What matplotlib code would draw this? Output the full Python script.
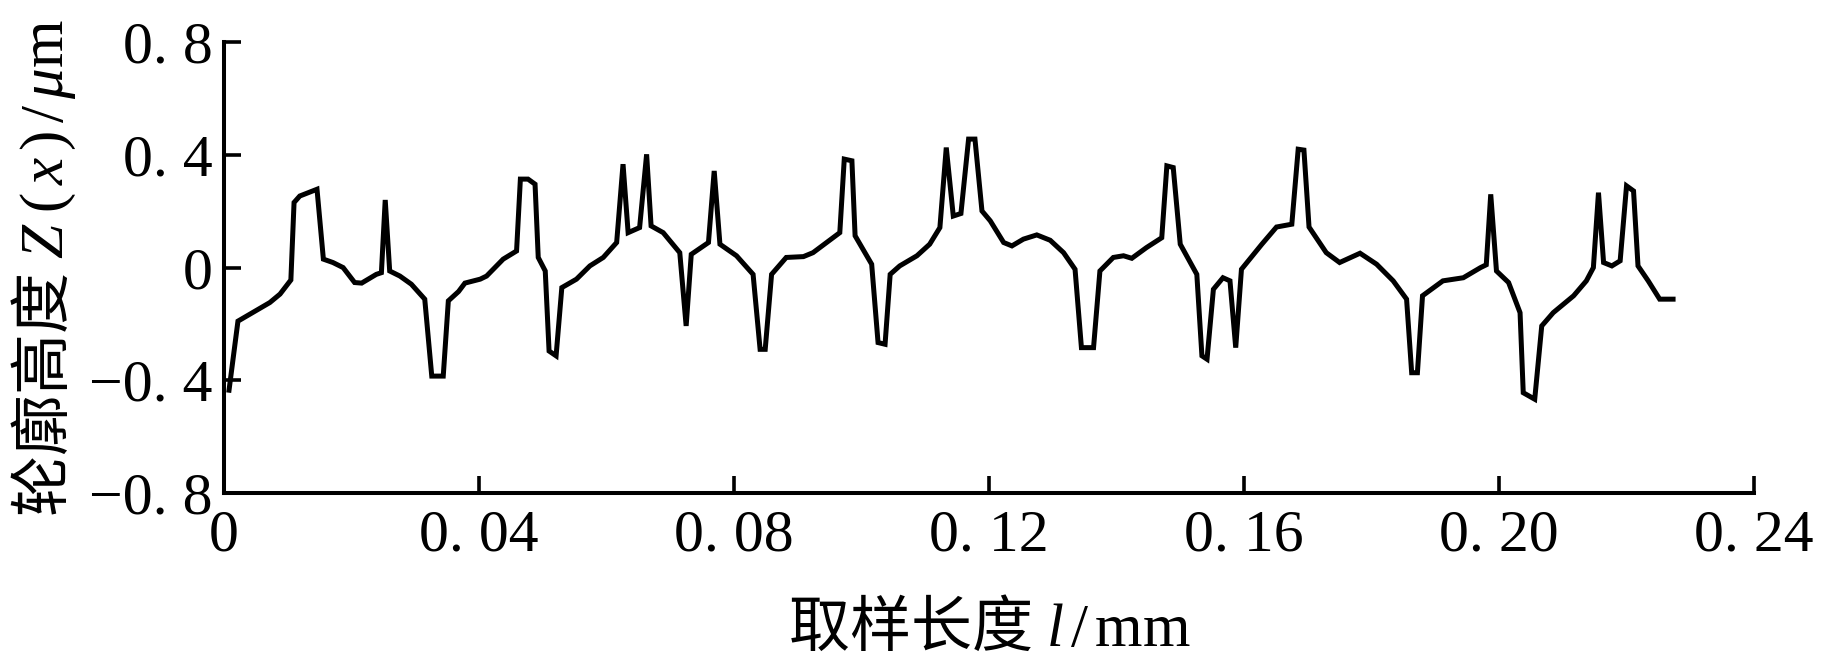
import matplotlib
matplotlib.use("Agg")
import matplotlib.pyplot as plt

# sampling length l (mm)
length_mm = [0.0008, 0.0022, 0.0054, 0.0072, 0.0088, 0.0105, 0.0110, 0.0119, 0.0146, 0.0156,
             0.0171, 0.0187, 0.0205, 0.0216, 0.0239, 0.0247, 0.0253, 0.0260, 0.0276, 0.0294,
             0.0315, 0.0326, 0.0344, 0.0352, 0.0368, 0.0378, 0.0402, 0.0412, 0.0438, 0.0459,
             0.0465, 0.0477, 0.0488, 0.0493, 0.0504, 0.0510, 0.0521, 0.0530, 0.0553, 0.0574,
             0.0595, 0.0616, 0.0626, 0.0634, 0.0652, 0.0663, 0.0670, 0.0689, 0.0715, 0.0725,
             0.0733, 0.0760, 0.0769, 0.0778, 0.0804, 0.0830, 0.0841, 0.0849, 0.0859, 0.0882,
             0.0909, 0.0924, 0.0966, 0.0973, 0.0985, 0.0990, 0.1016, 0.1026, 0.1037, 0.1045,
             0.1060, 0.1087, 0.1107, 0.1123, 0.1133, 0.1144, 0.1156, 0.1168, 0.1178, 0.1189,
             0.1202, 0.1223, 0.1236, 0.1254, 0.1275, 0.1296, 0.1317, 0.1335, 0.1345, 0.1364,
             0.1374, 0.1395, 0.1411, 0.1424, 0.1447, 0.1471, 0.1479, 0.1489, 0.1500, 0.1526,
             0.1534, 0.1542, 0.1552, 0.1567, 0.1578, 0.1587, 0.1596, 0.1609, 0.1628, 0.1651,
             0.1675, 0.1685, 0.1694, 0.1702, 0.1729, 0.1750, 0.1782, 0.1808, 0.1834, 0.1855,
             0.1863, 0.1872, 0.1880, 0.1912, 0.1944, 0.1971, 0.1980, 0.1987, 0.1996, 0.2015,
             0.2033, 0.2038, 0.2056, 0.2067, 0.2085, 0.2117, 0.2137, 0.2148, 0.2156, 0.2164,
             0.2177, 0.2190, 0.2200, 0.2211, 0.2218, 0.2234, 0.2252, 0.2273]

# profile height Z(x) (um)
height_um = [-0.435, -0.190, -0.148, -0.124, -0.094, -0.044, 0.231, 0.254, 0.278, 0.030,
             0.018, 0.000, -0.053, -0.055, -0.024, -0.018, 0.240, -0.012, -0.030, -0.059,
             -0.112, -0.385, -0.385, -0.118, -0.085, -0.055, -0.041, -0.030, 0.030, 0.059,
             0.314, 0.314, 0.296, 0.036, -0.012, -0.296, -0.313, -0.071, -0.041, 0.006,
             0.036, 0.089, 0.367, 0.124, 0.142, 0.402, 0.148, 0.124, 0.053, -0.207,
             0.047, 0.089, 0.343, 0.083, 0.042, -0.024, -0.290, -0.290, -0.024, 0.036,
             0.039, 0.053, 0.124, 0.385, 0.379, 0.113, 0.012, -0.266, -0.272, -0.024,
             0.006, 0.042, 0.083, 0.142, 0.426, 0.183, 0.192, 0.456, 0.456, 0.201,
             0.166, 0.089, 0.077, 0.101, 0.116, 0.097, 0.053, -0.006, -0.284, -0.284,
             -0.012, 0.036, 0.042, 0.033, 0.071, 0.106, 0.361, 0.355, 0.083, -0.024,
             -0.313, -0.325, -0.077, -0.036, -0.047, -0.284, -0.006, 0.030, 0.083, 0.144,
             0.154, 0.420, 0.417, 0.144, 0.053, 0.018, 0.051, 0.012, -0.047, -0.112,
             -0.373, -0.373, -0.100, -0.047, -0.036, 0.000, 0.010, 0.260, -0.012, -0.053,
             -0.160, -0.444, -0.467, -0.207, -0.160, -0.100, -0.047, 0.000, 0.266, 0.018,
             0.006, 0.024, 0.290, 0.272, 0.006, -0.047, -0.112, -0.112]

x_ticks = [0, 0.04, 0.08, 0.12, 0.16, 0.20, 0.24]
x_tick_labels = ["0", "0. 04", "0. 08", "0. 12", "0. 16", "0. 20", "0. 24"]
y_ticks = [-0.8, -0.4, 0, 0.4, 0.8]
y_tick_labels = ["\u22120. 8", "\u22120. 4", "0", "0. 4", "0. 8"]

plt.rcParams['font.family'] = ['Liberation Serif', 'DejaVu Serif']
plt.rcParams['mathtext.fontset'] = 'custom'
plt.rcParams['mathtext.rm'] = 'Liberation Serif'
plt.rcParams['mathtext.it'] = 'Liberation Serif:italic'

fig = plt.figure(figsize=(18.22, 6.69), dpi=100)
ax = fig.add_axes([0.1229, 0.263, 0.8398, 0.674])

ax.plot(length_mm, height_um, color='black', linewidth=3.6, solid_joinstyle='miter')

ax.set_xlim(0, 0.24)
ax.set_ylim(-0.8, 0.8)
ax.spines['top'].set_visible(False)
ax.spines['right'].set_visible(False)
for s in ('left', 'bottom'):
    ax.spines[s].set_linewidth(2.9)

ax.set_xticks(x_ticks)
ax.set_xticklabels(x_tick_labels)
ax.set_yticks(y_ticks)
ax.set_yticklabels(y_tick_labels)
ax.tick_params(axis='both', direction='in', length=12, width=2.6, labelsize=43)
ax.tick_params(axis='x', pad=12)
ax.tick_params(axis='y', pad=8)

lab = ['Noto Sans CJK SC', 'DejaVu Sans']
ax.set_xlabel('取样长度 $l\\,/\\,\\mathrm{mm}$', fontsize=44, family=lab, labelpad=24)
ax.set_ylabel('轮廓高度 $Z\\;(\\,x\\,)\\,/\\,\\mu\\mathrm{m}$', fontsize=44, family=lab, labelpad=8)

fig.savefig('out.png', dpi=100)
